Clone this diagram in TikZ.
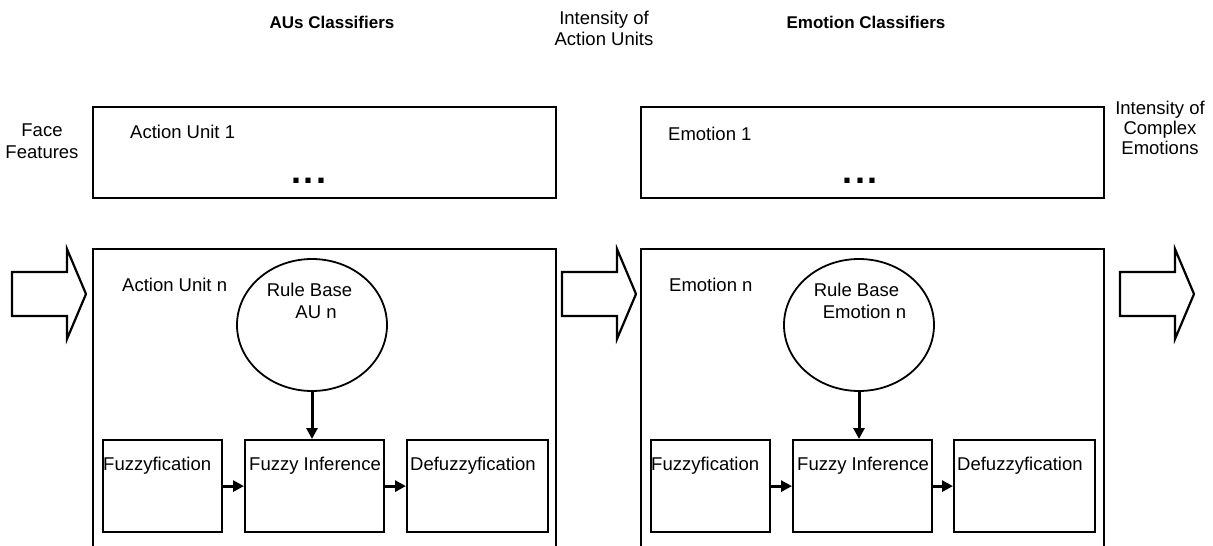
\documentclass[tikz,border=0pt]{standalone}
\usepackage{fontspec}
\setmainfont{Liberation Sans}
\usetikzlibrary{arrows.meta,shapes.geometric}
\tikzset{
  txt/.style={inner sep=0pt, font=\fontsize{18.5}{21}\selectfont},
  ttl/.style={inner sep=0pt, font=\fontsize{17}{20}\selectfont\bfseries},
  dots/.style={inner sep=0pt, font=\fontsize{36}{36}\selectfont\bfseries},
  box/.style={draw, line width=2.4pt, inner sep=0pt, anchor=north west},
  stagebox/.style={draw, line width=2pt, inner sep=0pt, anchor=north west},
  inbox/.style={draw, line width=2.2pt, inner sep=0pt, anchor=north west, minimum height=92pt},
  rulebase/.style={draw, ellipse, line width=1.8pt, inner sep=0pt, minimum width=150pt, minimum height=132pt},
  flow/.style={line width=3pt, -{Triangle[length=11pt,width=11pt]}},
  blk/.style={draw, line width=2.2pt, line join=miter, fill=white},
}
\newcommand\blockarr[1]{%
  \draw[blk] (#1,272) -- ++(55,0) -- ++(0,-23) -- ++(19,45) -- ++(-19,45) -- ++(0,-23) -- ++(-55,0) -- cycle;}
\begin{document}
\begin{tikzpicture}[x=1pt,y=-1pt]
\useasboundingbox (0,0) rectangle (1213,546);
\clip (0,0) rectangle (1213,546);
\fill[white] (0,0) rectangle (1213,546);

% titles
\node[ttl, anchor=base] (t1) at (332,28) {AUs Classifiers};
\node[ttl, anchor=base] (t2) at (866,28) {Emotion Classifiers};
\node[txt, anchor=base] (ia1) at (604,24) {Intensity of};
\node[txt, anchor=base] (ia2) at (604,45) {Action Units};
\node[txt, anchor=base] (ff1) at (42,136.5) {Face};
\node[txt, anchor=base] (ff2) at (42,158.5) {Features};
\node[txt, anchor=base] (ic1) at (1160,114) {Intensity of};
\node[txt, anchor=base] (ic2) at (1160,134) {Complex};
\node[txt, anchor=base] (ic3) at (1160,154) {Emotions};

% top boxes
\node[box, minimum width=463pt, minimum height=91pt] (au1) at (92,106) {};
\node[box, minimum width=463pt, minimum height=91pt] (em1) at (640,106) {};
\node[txt, anchor=base west] (au1t) at (130,138.5) {Action Unit 1};
\node[txt, anchor=base west] (em1t) at (668,140.5) {Emotion 1};
\node[dots, anchor=base] (d1) at (309,183) {.\hspace{3pt}.\hspace{3pt}.};
\node[dots, anchor=base] (d2) at (860,183) {.\hspace{3pt}.\hspace{3pt}.};

% big stage boxes
\node[stagebox, minimum width=463pt, minimum height=330pt] (aun) at (92,248) {};
\node[stagebox, minimum width=463pt, minimum height=330pt] (emn) at (640,248) {};
\node[txt, anchor=base west] (aunt) at (122,291.6) {Action Unit n};
\node[txt, anchor=base west] (emnt) at (669,291.6) {Emotion n};

% block arrows
\blockarr{12}
\blockarr{562}
\blockarr{1120}

% rule bases
\node[rulebase] (rb1) at (312,325) {};
\node[txt, anchor=base] (rb1a) at (309.5,296.6) {Rule Base};
\node[txt, anchor=base] (rb1b) at (316,318.6) {AU n};
\node[rulebase] (rb2) at (859,325) {};
\node[txt, anchor=base] (rb2a) at (856.5,296.6) {Rule Base};
\node[txt, anchor=base] (rb2b) at (864.5,318.6) {Emotion n};

% inner boxes left
\node[inbox, minimum width=119pt] (fz1) at (102,439) {};
\node[inbox, minimum width=139pt] (fi1) at (244,439) {};
\node[inbox, minimum width=141pt] (df1) at (406,439) {};
\node[txt, anchor=base west] at (103,470) {Fuzzyfication};
\node[txt, anchor=base west] at (249,470) {Fuzzy Inference};
\node[txt, anchor=base west] at (410,470.5) {Defuzzyfication};

% inner boxes right
\node[inbox, minimum width=119pt] (fz2) at (650,439) {};
\node[inbox, minimum width=139pt] (fi2) at (792,439) {};
\node[inbox, minimum width=141pt] (df2) at (953,439) {};
\node[txt, anchor=base west] at (651,470) {Fuzzyfication};
\node[txt, anchor=base west] at (797,470) {Fuzzy Inference};
\node[txt, anchor=base west] at (957,470.5) {Defuzzyfication};

% connectors
\draw[flow] (fz1.east) -- (fi1.west);
\draw[flow] (fi1.east) -- (df1.west);
\draw[flow] (rb1.south) -- (rb1.south |- fi1.north);
\draw[flow] (fz2.east) -- (fi2.west);
\draw[flow] (fi2.east) -- (df2.west);
\draw[flow] (rb2.south) -- (rb2.south |- fi2.north);
\end{tikzpicture}
\end{document}
